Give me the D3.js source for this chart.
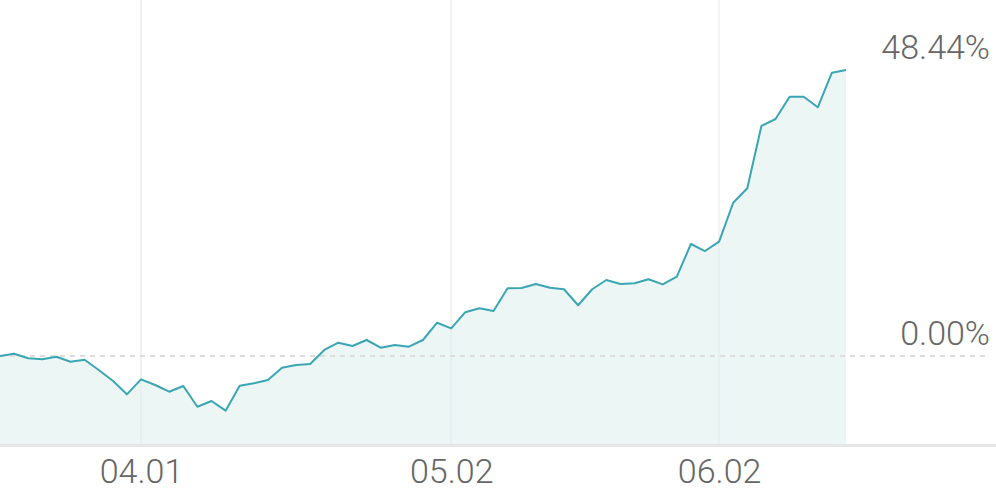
<!DOCTYPE html>
<html>
<head>
<meta charset="utf-8">
<script src="https://cdn.jsdelivr.net/npm/d3@7/dist/d3.min.js"></script>
<style>
  html, body { margin: 0; padding: 0; background: #fff; }
  svg { display: block; font-family: Roboto, "Noto Sans", sans-serif; }
</style>
</head>
<body>
<svg id="chart" width="996" height="490"></svg>
<script>
// Cumulative return (%) per trading day
const values = [
  0.00, 0.39, -0.39, -0.56, -0.12, -0.97, -0.63, -2.37, -4.18, -6.49,
  -3.95, -4.91, -6.05, -5.08, -8.59, -7.62, -9.26, -5.05, -4.62, -4.07,
  -1.98, -1.52, -1.36, 1.02, 2.25, 1.69, 2.71, 1.41, 1.86, 1.58,
  2.71, 5.64, 4.69, 7.42, 8.08, 7.62, 11.47, 11.52, 12.20, 11.57,
  11.30, 8.59, 11.30, 12.87, 12.20, 12.31, 12.99, 12.14, 13.43, 18.97,
  17.78, 19.36, 25.96, 28.40, 38.96, 40.14, 43.92, 43.92, 42.12, 47.98,
  48.44
];
const tickIndex = [10, 32, 51];
const tickLabels = ["04.01", "05.02", "06.02"];
const yLabels = ["48.44%", "0.00%"];
const yLabelValues = [48.44, 0];

const W = 996, H = 490;
const svg = d3.select("#chart");

const x = d3.scaleLinear().domain([0, values.length - 1]).range([0, 846]);
const y = d3.scaleLinear().domain([0, 48.44]).range([356, 70]);
const baseY = 445;

// vertical grid lines
svg.append("g").selectAll("line").data(tickIndex).join("line")
  .attr("x1", d => x(d)).attr("x2", d => x(d))
  .attr("y1", 0).attr("y2", baseY)
  .attr("stroke", "#f2f2f2").attr("stroke-width", 2);

// area
const area = d3.area().x((d, i) => x(i)).y0(baseY - 1).y1(d => y(d));
svg.append("path").datum(values).attr("d", area)
  .attr("fill", "#ecf6f5");

svg.append("clipPath").attr("id", "areaClip")
  .append("path").datum(values).attr("d", area);

// faint grid lines inside the area
svg.append("g").attr("clip-path", "url(#areaClip)")
  .selectAll("line").data(tickIndex).join("line")
  .attr("x1", d => x(d)).attr("x2", d => x(d))
  .attr("y1", 0).attr("y2", baseY)
  .attr("stroke", "#e5f0ef").attr("stroke-width", 2);

// zero dashed line
svg.append("line")
  .attr("x1", 0).attr("x2", 990)
  .attr("y1", y(0)).attr("y2", y(0))
  .attr("stroke", "#dddddd").attr("stroke-width", 2)
  .attr("stroke-dasharray", "5,5");

// line
const line = d3.line().x((d, i) => x(i)).y(d => y(d));
svg.append("path").datum(values).attr("d", line)
  .attr("fill", "none").attr("stroke", "#3aa6b3")
  .attr("stroke-width", 2).attr("stroke-linejoin", "round");

// bottom axis
const axis = d3.axisBottom(x)
  .tickValues(tickIndex)
  .tickFormat((d, i) => tickLabels[i])
  .tickSize(0).tickPadding(0);
const gx = svg.append("g").attr("transform", `translate(0,${baseY})`).call(axis);
gx.select(".domain").remove();
gx.selectAll("text")
  .attr("dy", null).attr("y", 38)
  .attr("font-size", 34).attr("font-weight", 300)
  .attr("font-family", "Roboto, sans-serif")
  .attr("fill", "#666");
svg.append("line")
  .attr("x1", 0).attr("x2", W).attr("y1", baseY + 0.5).attr("y2", baseY + 0.5)
  .attr("stroke", "#e6e6e6").attr("stroke-width", 3);

// right-side value labels
svg.append("g").selectAll("text").data(yLabelValues).join("text")
  .attr("x", 990)
  .attr("y", (d, i) => i === 0 ? 59 : 345)
  .attr("text-anchor", "end")
  .attr("font-size", 34).attr("font-weight", 300)
  .attr("fill", "#666")
  .text((d, i) => yLabels[i]);
</script>
</body>
</html>
